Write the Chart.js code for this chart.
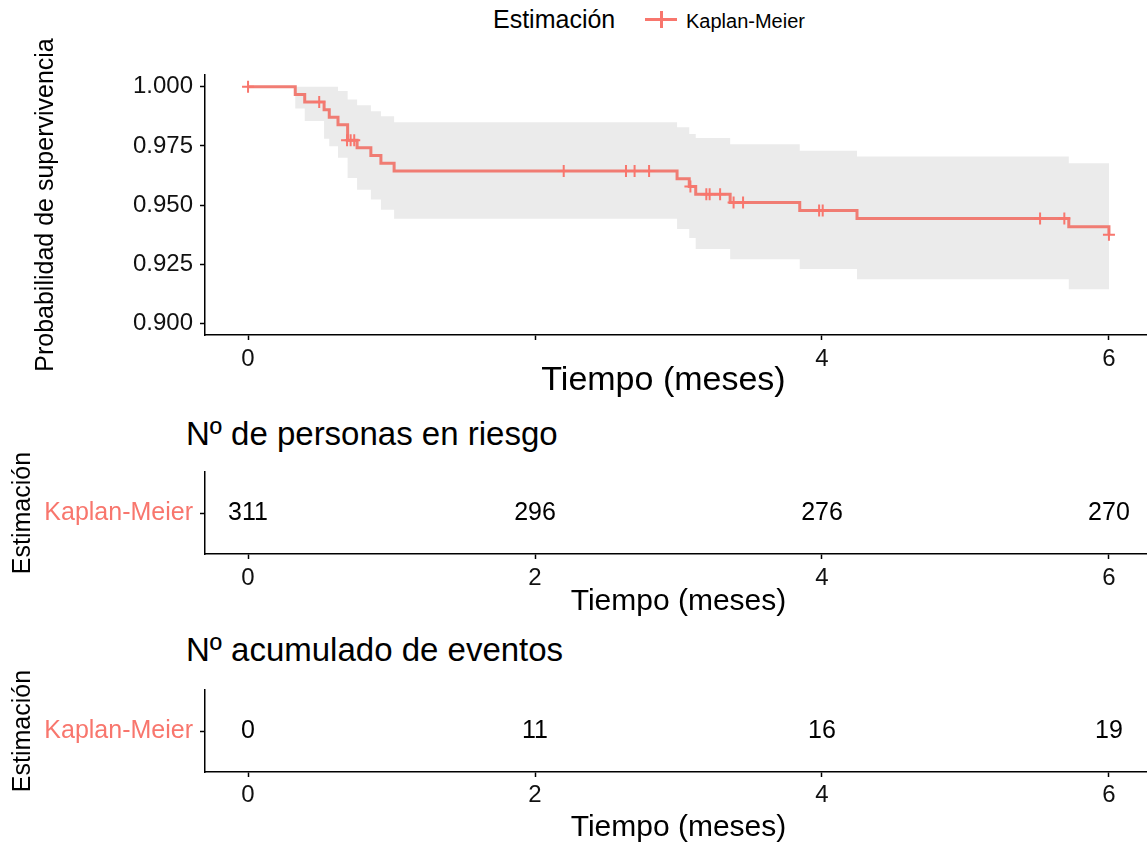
<!DOCTYPE html>
<html>
<head>
<meta charset="utf-8">
<script src="https://cdn.jsdelivr.net/npm/chart.js@4.4.0/dist/chart.umd.min.js"></script>
<style>
  body { margin: 0; background: #fff; width: 1147px; height: 845px; overflow: hidden; position: relative; font-family: "Liberation Sans", Arial, sans-serif; }
  canvas { position: absolute; left: 0; }
  .texto { position: absolute; line-height: 1; color: #000; white-space: nowrap; }
</style>
</head>
<body>

<div class="texto" style="left:493px; top:7px; font-size:25px;">Estimación</div>
<div style="position:absolute; left:645px; top:18px; width:32px; height:3px; background:#F8766D;"></div>
<div style="position:absolute; left:660px; top:11px; width:3px; height:17px; background:#F8766D;"></div>
<div class="texto" style="left:686px; top:11px; font-size:20px;">Kaplan-Meier</div>

<canvas id="graficoKM" width="1160" height="400" style="top:0px;"></canvas>

<div class="texto" style="left:186px; top:417px; font-size:33px;">Nº de personas en riesgo</div>
<canvas id="tablaRiesgo" width="1160" height="225" style="top:400px;"></canvas>

<div class="texto" style="left:186px; top:633px; font-size:33px;">Nº acumulado de eventos</div>
<canvas id="tablaEventos" width="1160" height="225" style="top:620px;"></canvas>

<script>
// Datos de la curva (tiempo en meses, supervivencia tras cada evento)
const tiempoEventos = [0, 0.329, 0.395, 0.53, 0.566, 0.627, 0.694, 0.76, 0.856, 0.926, 1.018, 2.99, 3.075, 3.12, 3.36, 3.845, 4.244, 5.72, 6.0];
const supervivencia = [1, 0.9968, 0.9936, 0.9903, 0.9871, 0.9839, 0.9774, 0.9742, 0.9709, 0.9677, 0.9644, 0.9611, 0.9578, 0.9545, 0.9511, 0.9477, 0.9443, 0.9408, 0.9374];
const limiteSuperior = [1, 1, 1, 1, 1, 0.9982, 0.9946, 0.9922, 0.9897, 0.9876, 0.9850, 0.9829, 0.9800, 0.9783, 0.9757, 0.9730, 0.9705, 0.9677, 0.9677];
const limiteInferior = [1, 0.9908, 0.9855, 0.9780, 0.9749, 0.9700, 0.9614, 0.9565, 0.9523, 0.9480, 0.9442, 0.9398, 0.9360, 0.9314, 0.9271, 0.9229, 0.9186, 0.9144, 0.9144];

// Censuras
const tiempoCensuras = [0, 0.496, 0.69, 0.715, 0.74, 2.20, 2.634, 2.694, 2.795, 3.083, 3.194, 3.217, 3.29, 3.384, 3.45, 3.98, 4.005, 5.52, 5.689, 6.0];
const supervivenciaCensuras = [1, 0.9936, 0.9774, 0.9774, 0.9774, 0.9644, 0.9644, 0.9644, 0.9644, 0.9578, 0.9545, 0.9545, 0.9545, 0.9511, 0.9511, 0.9477, 0.9477, 0.9443, 0.9443, 0.9374];

// Tablas
const tiemposTabla = [0, 2, 4, 6];
const enRiesgo = [311, 296, 276, 270];
const eventosAcumulados = [0, 11, 16, 19];
const grupos = ['Kaplan-Meier'];

// Ejes
const ticksX = [0, 2, 4, 6];
const etiquetasXGrafico = ['0', '', '4', '6'];
const etiquetasXTabla = ['0', '2', '4', '6'];
const ticksY = [0.900, 0.925, 0.950, 0.975, 1.000];
const etiquetasY = ['0.900', '0.925', '0.950', '0.975', '1.000'];

const ROJO = '#F8766D';
const FUENTE = '"Liberation Sans", Arial, sans-serif';
Chart.defaults.font.family = FUENTE;
Chart.defaults.color = '#000';

function puntos(xs, ys) {
    return xs.map((x, i) => ({ x: x, y: ys[i] }));
}

function ejeX(etiquetas, alto, padTicks, padTitulo, tamTitulo, conTitulo) {
    return {
        type: 'linear',
        min: -0.3,
        max: 6.3,
        afterBuildTicks: function (scale) {
            scale.ticks = ticksX.map(v => ({ value: v }));
        },
        afterFit: function (scale) { scale.height = alto; },
        ticks: {
            callback: function (v, i) { return etiquetas[i]; },
            font: { size: 24 },
            color: '#111',
            padding: padTicks,
            maxRotation: 0,
            autoSkip: false
        },
        grid: { display: true, drawOnChartArea: false, drawTicks: true, tickLength: 5, tickColor: '#000', tickWidth: 1.5 },
        border: { display: true, color: '#000', width: 1.5 },
        title: { display: conTitulo, text: 'Tiempo (meses)', font: { size: tamTitulo, lineHeight: 1 }, color: '#000', padding: { top: 0, bottom: padTitulo } }
    };
}

// Titulo del eje x del grafico principal (algo desplazado a la izquierda, como en el original)
const tituloX = {
    id: 'tituloX',
    afterDraw: function (chart) {
        const a = chart.chartArea;
        const ctx = chart.ctx;
        ctx.save();
        ctx.font = '34px ' + FUENTE;
        ctx.fillStyle = '#000';
        ctx.textAlign = 'center';
        ctx.textBaseline = 'middle';
        ctx.fillText('Tiempo (meses)', (a.left + a.right) / 2 - 15, chart.height - 19);
        ctx.restore();
    }
};

// Grafico de supervivencia
new Chart(document.getElementById('graficoKM'), {
    type: 'line',
    data: {
        datasets: [{
            label: 'Kaplan-Meier',
            data: puntos(tiempoEventos, supervivencia),
            borderColor: 'rgba(240,118,109,0.95)',
            borderWidth: 3,
            stepped: true,
            pointRadius: 0,
            fill: false,
            order: 1
        }, {
            label: 'Censuras',
            data: puntos(tiempoCensuras, supervivenciaCensuras),
            showLine: false,
            pointStyle: 'cross',
            pointRadius: 6,
            pointBorderWidth: 2,
            pointBorderColor: ROJO,
            order: 0
        }, {
            label: 'IC superior',
            data: puntos(tiempoEventos, limiteSuperior),
            stepped: true,
            borderWidth: 0,
            pointRadius: 0,
            backgroundColor: '#EBEBEB',
            fill: '+1',
            order: 3
        }, {
            label: 'IC inferior',
            data: puntos(tiempoEventos, limiteInferior),
            stepped: true,
            borderWidth: 0,
            pointRadius: 0,
            fill: false,
            order: 4
        }]
    },
    options: {
        responsive: false,
        animation: false,
        devicePixelRatio: 1,
        layout: { padding: { top: 75, right: 8, left: 0, bottom: 0 } },
        plugins: { legend: { display: false }, tooltip: { enabled: false } },
        scales: {
            x: ejeX(etiquetasXGrafico, 65, 5, 2, 34, false),
            y: {
                type: 'linear',
                min: 0.895,
                max: 1.005,
                afterBuildTicks: function (scale) {
                    scale.ticks = ticksY.map(v => ({ value: v }));
                },
                afterFit: function (scale) { scale.width = 205; },
                ticks: {
                    callback: function (v, i) { return etiquetasY[i]; },
                    font: { size: 24 },
                    color: '#111',
                    padding: 7
                },
                grid: { display: true, drawOnChartArea: false, drawTicks: true, tickLength: 5, tickColor: '#000', tickWidth: 1.5 },
                border: { display: true, color: '#000', width: 1.5 },
                title: { display: true, text: 'Probabilidad de supervivencia', font: { size: 25, lineHeight: 1 }, color: '#000', padding: { top: 34, bottom: 0 } }
            }
        }
    },
    plugins: [tituloX]
});

// Plugin para escribir los numeros de las tablas
const textoTabla = {
    id: 'textoTabla',
    afterDatasetsDraw: function (chart, args, opts) {
        const meta = chart.getDatasetMeta(0);
        const ctx = chart.ctx;
        ctx.save();
        ctx.font = '25px ' + FUENTE;
        ctx.fillStyle = '#000';
        ctx.textAlign = 'center';
        ctx.textBaseline = 'middle';
        meta.data.forEach(function (p, i) {
            ctx.fillText(String(opts.valores[i]), p.x, p.y);
        });
        ctx.restore();
    }
};

function tabla(id, valores, altoEje, padTicks, padTitulo, padSup) {
    new Chart(document.getElementById(id), {
        type: 'line',
        data: {
            datasets: [{
                data: tiemposTabla.map(t => ({ x: t, y: grupos[0] })),
                showLine: false,
                pointRadius: 0
            }]
        },
        options: {
            responsive: false,
            animation: false,
            devicePixelRatio: 1,
            layout: { padding: { top: padSup, right: 8, left: 0, bottom: 0 } },
            plugins: { legend: { display: false }, tooltip: { enabled: false }, textoTabla: { valores: valores } },
            scales: {
                x: ejeX(etiquetasXTabla, altoEje, padTicks, padTitulo, 30, true),
                y: {
                    type: 'category',
                    labels: grupos,
                    offset: true,
                    afterFit: function (scale) { scale.width = 205; },
                    ticks: { font: { size: 25 }, color: ROJO, padding: 7 },
                    grid: { display: true, offset: false, drawOnChartArea: false, drawTicks: true, tickLength: 5, tickColor: '#000', tickWidth: 1.5 },
                    border: { display: true, color: '#000', width: 1.5 },
                    title: { display: true, text: 'Estimación', font: { size: 25, lineHeight: 1 }, color: '#000', padding: { top: 11, bottom: 0 } }
                }
            }
        },
        plugins: [textoTabla]
    });
}

tabla('tablaRiesgo', enRiesgo, 71, 5, 8, 72);
tabla('tablaEventos', eventosAcumulados, 73, 4, 2, 70);
</script>
</body>
</html>
